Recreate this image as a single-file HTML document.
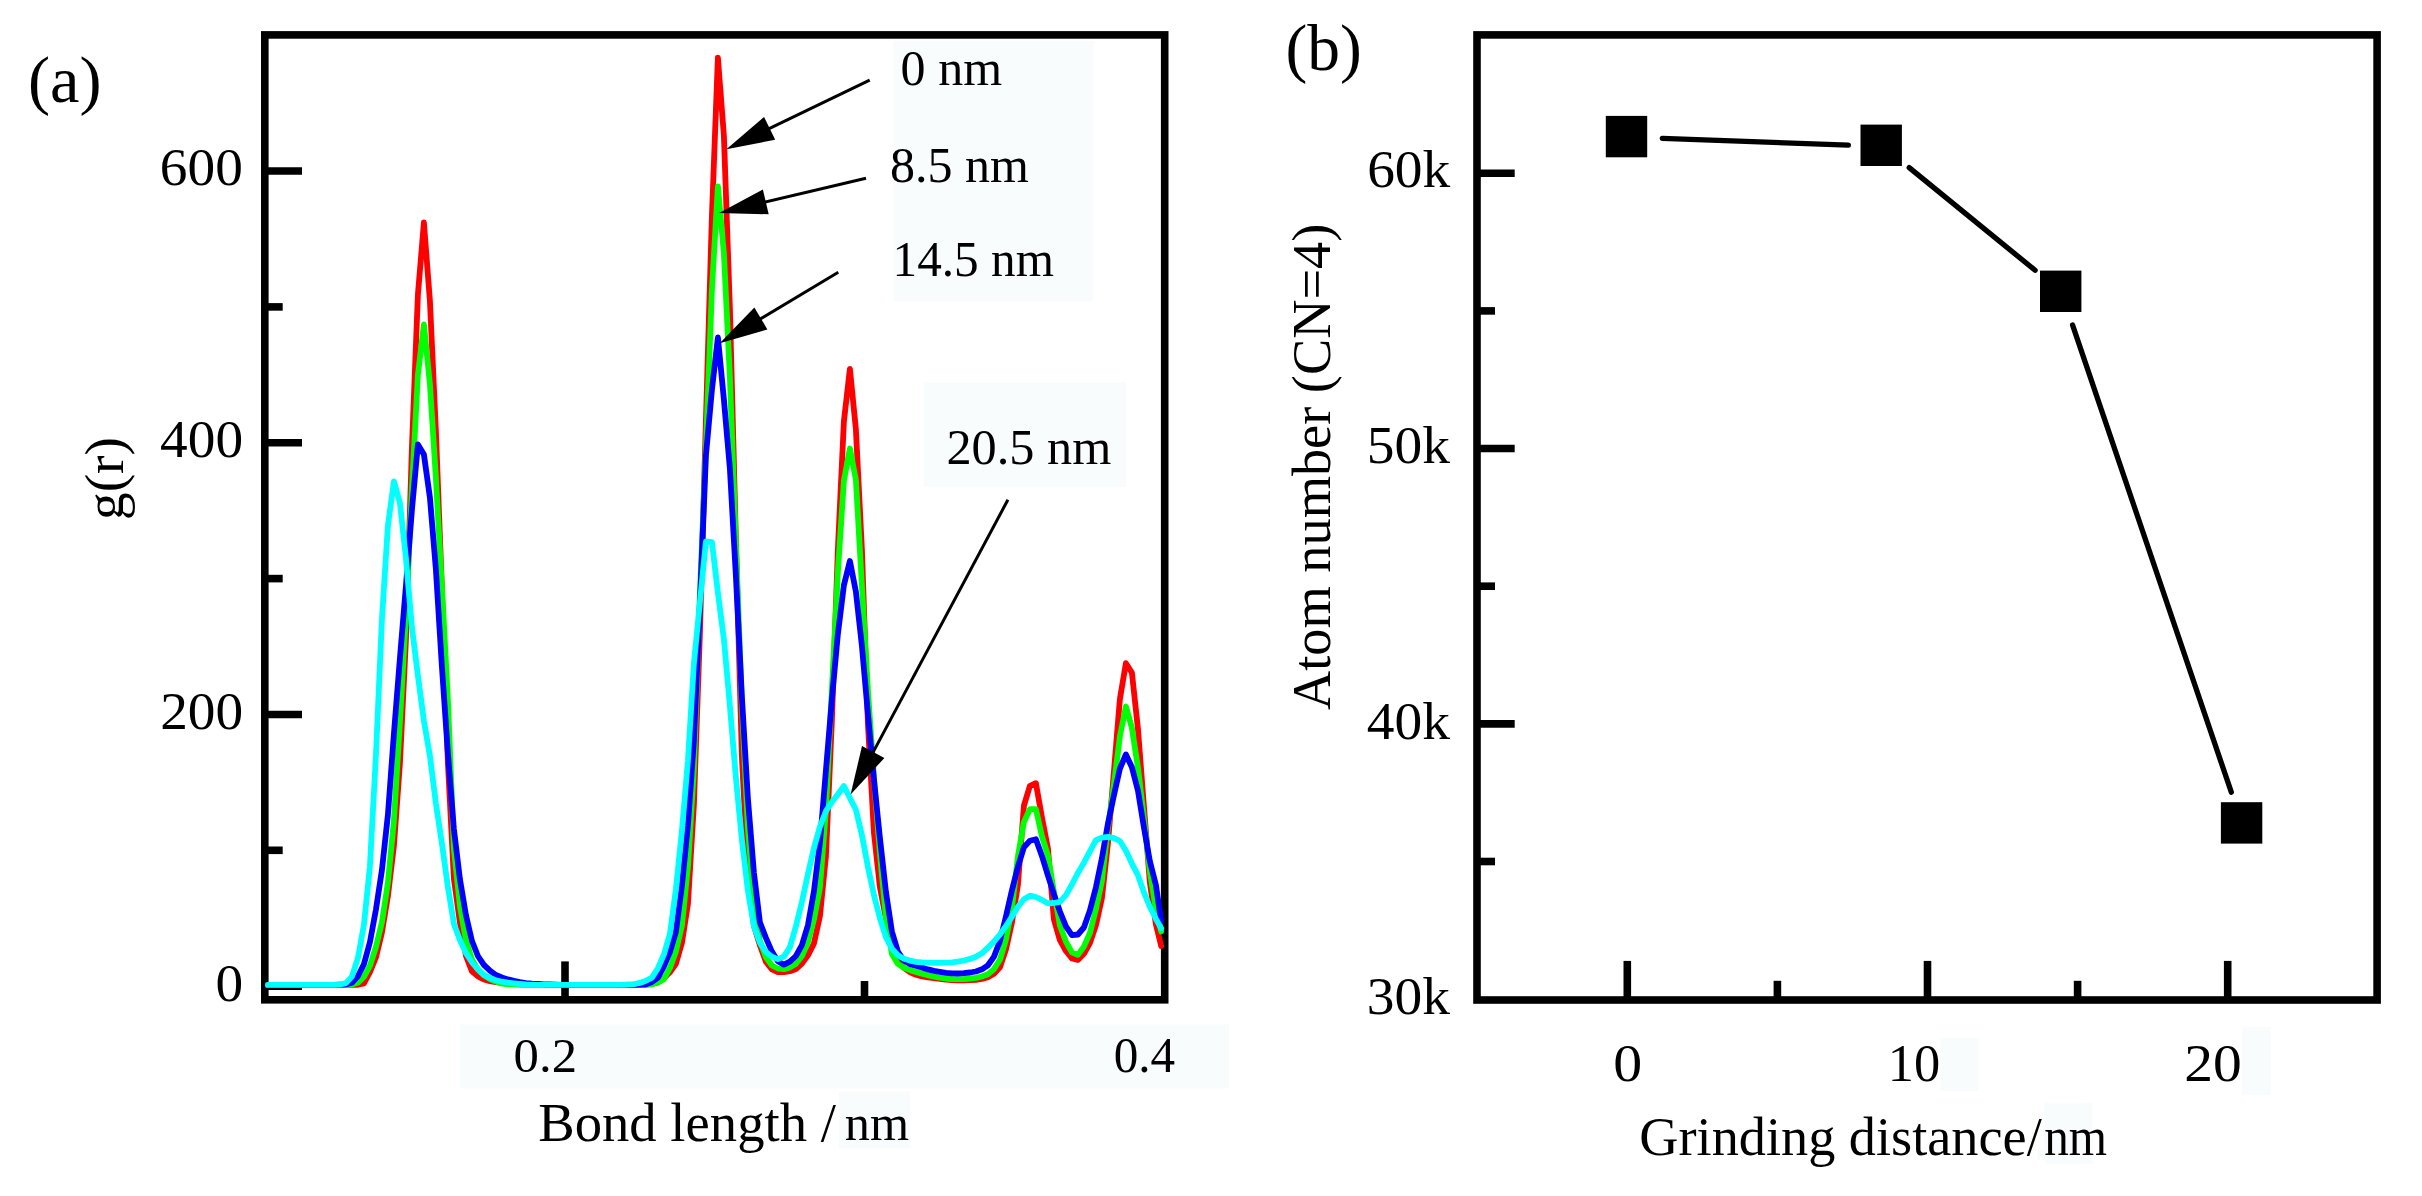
<!DOCTYPE html>
<html lang="en"><head><meta charset="utf-8"><title>g(r) and atom number vs grinding distance</title>
<style>html,body{margin:0;padding:0;background:#fff;overflow:hidden;}svg{display:block;}text{font-family:"Liberation Serif", serif;fill:#000;}</style></head><body>
<svg width="2422" height="1196" viewBox="0 0 2422 1196" role="img" aria-label="Radial distribution function and atom number charts">
<rect x="0" y="0" width="2422" height="1196" fill="#ffffff"/>
<rect x="893.3" y="41" width="200.2" height="260.5" fill="#f8fcfd"/>
<rect x="924" y="382" width="201.8" height="105.0" fill="#f8fcfd"/>
<rect x="459.8" y="1024.5" width="769.2" height="63.9" fill="#f8fcfd"/>
<rect x="839" y="1091.3" width="71.0" height="57.2" fill="#f8fcfd"/>
<rect x="1940" y="1037.8" width="38.7" height="53.1" fill="#f8fcfd"/>
<rect x="2242.2" y="1026.7" width="28.8" height="68.0" fill="#f8fcfd"/>
<rect x="2044.7" y="1103" width="48.0" height="60.7" fill="#f8fcfd"/>
<rect x="2037" y="1149" width="8.0" height="11.0" fill="#f8fcfd"/>
<g stroke="#000" stroke-width="7.6" fill="none" stroke-linecap="butt">
<rect x="264.8" y="34.9" width="899.9" height="964.9"/>
<line x1="264.8" y1="171.0" x2="302" y2="171.0"/>
<line x1="264.8" y1="442.7" x2="302" y2="442.7"/>
<line x1="264.8" y1="714.5" x2="302" y2="714.5"/>
<line x1="264.8" y1="986.2" x2="302" y2="986.2"/>
<line x1="264.8" y1="306.9" x2="282.7" y2="306.9"/>
<line x1="264.8" y1="578.6" x2="282.7" y2="578.6"/>
<line x1="264.8" y1="850.3" x2="282.7" y2="850.3"/>
<line x1="565" y1="999.8" x2="565" y2="961.4"/>
<line x1="864.5" y1="999.8" x2="864.5" y2="981"/>
</g>
<polyline points="267.9,984.9 273.9,984.9 279.9,984.9 285.9,984.9 291.9,984.9 297.9,984.9 303.9,984.9 309.9,984.9 315.9,984.9 321.9,984.9 327.9,984.9 333.9,984.9 339.9,984.9 345.9,984.9 351.9,984.9 357.9,984.8 363.9,983.4 369.9,972.1 375.9,957.5 381.9,932.6 387.9,896.0 393.9,845.8 399.9,763.7 405.9,640.2 411.9,448.4 417.9,294.7 423.9,222.5 429.9,300.7 435.9,431.2 441.9,589.2 447.9,762.8 453.9,878.5 459.9,922.2 465.9,955.6 471.9,971.3 477.9,976.3 483.9,979.4 489.9,981.1 495.9,982.1 501.9,982.9 507.9,983.6 513.9,984.0 519.9,984.3 525.9,984.4 531.9,984.6 537.9,984.7 543.9,984.8 549.9,984.9 555.9,984.9 561.9,984.9 567.9,984.9 573.9,984.9 579.9,984.9 585.9,984.9 591.9,984.9 597.9,984.9 603.9,984.9 609.9,984.9 615.9,984.9 621.9,984.9 627.9,984.9 633.9,984.9 639.9,984.9 645.9,984.7 651.9,984.0 657.9,982.4 663.9,978.3 669.9,972.3 675.9,963.8 681.9,943.0 687.9,904.1 693.9,804.7 699.9,633.2 705.9,421.0 711.9,216.1 717.9,57.6 723.9,135.9 729.9,308.8 735.9,541.1 741.9,756.9 747.9,872.4 753.9,925.6 759.9,945.3 765.9,961.8 771.9,969.4 777.9,972.1 783.9,972.1 789.9,971.2 795.9,969.0 801.9,963.5 807.9,955.3 813.9,943.7 819.9,916.2 825.9,856.8 831.9,719.8 837.9,548.9 843.9,421.3 849.9,368.9 855.9,429.5 861.9,549.3 867.9,723.2 873.9,832.2 879.9,886.9 885.9,918.5 891.9,946.1 897.9,960.8 903.9,967.9 909.9,972.0 915.9,974.8 921.9,976.4 927.9,977.4 933.9,978.1 939.9,978.8 945.9,979.6 951.9,980.2 957.9,980.4 963.9,980.3 969.9,980.2 975.9,979.9 981.9,979.0 987.9,977.3 993.9,973.8 999.9,967.2 1005.9,949.6 1011.9,922.5 1017.9,885.1 1023.9,805.7 1029.9,785.8 1035.9,783.2 1041.9,817.2 1047.9,848.2 1053.9,919.5 1059.9,940.1 1065.9,951.0 1071.9,958.5 1077.9,959.9 1083.9,953.8 1089.9,943.1 1095.9,925.3 1101.9,898.2 1107.9,843.4 1113.9,772.0 1119.9,698.9 1125.9,663.2 1131.9,672.8 1137.9,728.4 1143.9,806.0 1149.9,882.7 1155.9,924.4 1161.2,946.0" fill="none" stroke="#ff0000" stroke-width="5.8" stroke-linejoin="round" stroke-linecap="round"/>
<polyline points="267.9,984.9 273.9,984.9 279.9,984.9 285.9,984.9 291.9,984.9 297.9,984.9 303.9,984.9 309.9,984.9 315.9,984.9 321.9,984.9 327.9,984.9 333.9,984.9 339.9,984.9 345.9,984.8 351.9,984.6 357.9,982.6 363.9,976.9 369.9,965.8 375.9,947.0 381.9,922.4 387.9,882.7 393.9,820.9 399.9,722.3 405.9,616.2 411.9,489.4 417.9,374.8 423.9,324.5 429.9,384.0 435.9,477.7 441.9,587.0 447.9,700.0 453.9,848.7 459.9,906.0 465.9,940.0 471.9,959.4 477.9,969.7 483.9,975.3 489.9,979.0 495.9,981.6 501.9,983.6 507.9,984.2 513.9,984.4 519.9,984.6 525.9,984.8 531.9,984.9 537.9,984.9 543.9,984.9 549.9,984.9 555.9,984.9 561.9,984.9 567.9,984.9 573.9,984.9 579.9,984.9 585.9,984.9 591.9,984.9 597.9,984.9 603.9,984.9 609.9,984.9 615.9,984.9 621.9,984.9 627.9,984.9 633.9,984.9 639.9,984.9 645.9,984.7 651.9,984.3 657.9,982.4 663.9,979.2 669.9,967.9 675.9,951.4 681.9,925.7 687.9,867.0 693.9,768.7 699.9,594.4 705.9,448.1 711.9,290.0 717.9,186.3 723.9,253.5 729.9,377.2 735.9,543.5 741.9,705.8 747.9,827.2 753.9,903.1 759.9,940.9 765.9,957.3 771.9,965.5 777.9,968.5 783.9,969.1 789.9,967.4 795.9,963.7 801.9,956.0 807.9,942.3 813.9,919.6 819.9,887.9 825.9,810.7 831.9,688.7 837.9,571.3 843.9,480.9 849.9,448.5 855.9,480.0 861.9,585.4 867.9,689.9 873.9,777.4 879.9,853.0 885.9,917.5 891.9,954.0 897.9,963.9 903.9,967.8 909.9,970.1 915.9,971.9 921.9,973.6 927.9,975.2 933.9,976.7 939.9,977.6 945.9,978.5 951.9,979.0 957.9,979.2 963.9,979.0 969.9,978.5 975.9,977.8 981.9,976.5 987.9,974.2 993.9,969.3 999.9,959.8 1005.9,939.6 1011.9,908.3 1017.9,856.5 1023.9,822.0 1029.9,809.2 1035.9,809.2 1041.9,836.1 1047.9,855.7 1053.9,891.6 1059.9,925.5 1065.9,941.6 1071.9,952.4 1077.9,954.8 1083.9,946.6 1089.9,933.0 1095.9,909.4 1101.9,880.9 1107.9,827.9 1113.9,784.8 1119.9,736.3 1125.9,706.5 1131.9,728.0 1137.9,767.3 1143.9,817.6 1149.9,871.7 1155.9,909.6 1161.2,931.5" fill="none" stroke="#00ff00" stroke-width="5.8" stroke-linejoin="round" stroke-linecap="round"/>
<polyline points="267.9,984.9 273.9,984.9 279.9,984.9 285.9,984.9 291.9,984.9 297.9,984.9 303.9,984.9 309.9,984.9 315.9,984.9 321.9,984.9 327.9,984.9 333.9,984.9 339.9,984.7 345.9,984.4 351.9,982.7 357.9,976.3 363.9,964.3 369.9,942.3 375.9,909.8 381.9,870.2 387.9,814.9 393.9,734.0 399.9,658.4 405.9,586.3 411.9,510.0 417.9,444.5 423.9,454.5 429.9,497.5 435.9,569.5 441.9,666.6 447.9,753.3 453.9,829.0 459.9,879.1 465.9,914.9 471.9,940.8 477.9,956.0 483.9,964.9 489.9,970.7 495.9,975.0 501.9,977.5 507.9,979.4 513.9,980.9 519.9,982.1 525.9,983.1 531.9,983.7 537.9,984.0 543.9,984.3 549.9,984.5 555.9,984.7 561.9,984.8 567.9,984.9 573.9,984.9 579.9,984.9 585.9,984.9 591.9,984.9 597.9,984.9 603.9,984.9 609.9,984.9 615.9,984.9 621.9,984.9 627.9,984.9 633.9,984.9 639.9,984.7 645.9,984.3 651.9,982.0 657.9,977.6 663.9,966.4 669.9,952.2 675.9,931.9 681.9,885.9 687.9,825.3 693.9,740.5 699.9,604.6 705.9,455.8 711.9,389.9 717.9,337.5 723.9,399.6 729.9,468.8 735.9,576.0 741.9,697.2 747.9,798.7 753.9,872.5 759.9,922.3 765.9,937.9 771.9,951.6 777.9,961.3 783.9,964.7 789.9,961.7 795.9,956.0 801.9,945.1 807.9,925.3 813.9,891.6 819.9,842.9 825.9,770.7 831.9,699.2 837.9,633.8 843.9,585.2 849.9,561.0 855.9,591.7 861.9,646.0 867.9,713.6 873.9,779.0 879.9,837.7 885.9,891.7 891.9,931.5 897.9,951.7 903.9,960.3 909.9,964.1 915.9,965.8 921.9,967.5 927.9,969.4 933.9,970.9 939.9,971.9 945.9,972.8 951.9,973.3 957.9,973.5 963.9,973.2 969.9,972.5 975.9,971.5 981.9,969.3 987.9,965.3 993.9,956.9 999.9,941.1 1005.9,916.6 1011.9,890.5 1017.9,866.9 1023.9,847.2 1029.9,840.8 1035.9,839.3 1041.9,855.9 1047.9,875.3 1053.9,894.1 1059.9,911.5 1065.9,926.3 1071.9,935.1 1077.9,934.5 1083.9,927.5 1089.9,910.5 1095.9,887.4 1101.9,858.4 1107.9,823.8 1113.9,795.4 1119.9,768.5 1125.9,754.5 1131.9,767.3 1137.9,790.4 1143.9,827.2 1149.9,861.4 1155.9,885.0 1161.2,921.5" fill="none" stroke="#0000ff" stroke-width="5.8" stroke-linejoin="round" stroke-linecap="round"/>
<polyline points="267.9,984.9 273.9,984.9 279.9,984.9 285.9,984.9 291.9,984.9 297.9,984.9 303.9,984.9 309.9,984.9 315.9,984.9 321.9,984.9 327.9,984.9 333.9,984.8 339.9,984.5 345.9,983.1 351.9,976.6 357.9,957.9 363.9,925.0 369.9,866.5 375.9,755.9 381.9,619.6 387.9,525.7 393.9,481.3 399.9,502.9 405.9,557.7 411.9,627.2 417.9,675.6 423.9,721.0 429.9,755.7 435.9,803.6 441.9,843.4 447.9,887.0 453.9,923.9 459.9,940.1 465.9,952.9 471.9,962.3 477.9,969.2 483.9,974.9 489.9,978.1 495.9,980.2 501.9,981.7 507.9,982.6 513.9,983.3 519.9,983.9 525.9,984.4 531.9,984.7 537.9,984.9 543.9,984.9 549.9,984.9 555.9,984.9 561.9,984.9 567.9,984.9 573.9,984.9 579.9,984.9 585.9,984.9 591.9,984.9 597.9,984.9 603.9,984.9 609.9,984.9 615.9,984.9 621.9,984.8 627.9,984.5 633.9,984.1 639.9,982.9 645.9,980.8 651.9,977.6 657.9,968.2 663.9,954.5 669.9,933.9 675.9,889.4 681.9,830.9 687.9,760.9 693.9,663.4 699.9,602.3 705.9,541.5 711.9,542.2 717.9,592.6 723.9,639.4 729.9,706.1 735.9,777.8 741.9,839.9 747.9,890.8 753.9,926.2 759.9,942.7 765.9,952.0 771.9,956.8 777.9,959.1 783.9,956.6 789.9,947.1 795.9,926.2 801.9,901.9 807.9,874.1 813.9,848.1 819.9,826.8 825.9,811.2 831.9,802.0 837.9,794.3 843.9,786.0 849.9,798.0 855.9,809.8 861.9,835.1 867.9,866.8 873.9,895.0 879.9,918.3 885.9,937.1 891.9,948.6 897.9,955.2 903.9,958.7 909.9,960.6 915.9,961.8 921.9,962.4 927.9,962.7 933.9,962.9 939.9,962.9 945.9,962.6 951.9,962.3 957.9,961.6 963.9,960.5 969.9,958.9 975.9,956.8 981.9,953.3 987.9,947.7 993.9,941.6 999.9,934.5 1005.9,926.1 1011.9,916.7 1017.9,906.7 1023.9,899.2 1029.9,895.7 1035.9,897.0 1041.9,899.9 1047.9,903.3 1053.9,903.0 1059.9,901.8 1065.9,895.1 1071.9,884.5 1077.9,872.9 1083.9,862.7 1089.9,851.4 1095.9,840.2 1101.9,837.6 1107.9,836.8 1113.9,838.1 1119.9,841.0 1125.9,850.8 1131.9,863.6 1137.9,875.1 1143.9,892.4 1149.9,907.0 1155.9,918.8 1161.2,928.4" fill="none" stroke="#00ffff" stroke-width="5.8" stroke-linejoin="round" stroke-linecap="round"/>
<line x1="869.7" y1="80.2" x2="766.0" y2="130.1" stroke="#000" stroke-width="3.0"/>
<polygon points="726.4,149.2 764.1,116.9 775.2,139.8" fill="#000"/>
<line x1="866.0" y1="178.3" x2="761.9" y2="202.8" stroke="#000" stroke-width="3.0"/>
<polygon points="719.1,212.9 762.9,189.5 768.7,214.3" fill="#000"/>
<line x1="838.3" y1="272.2" x2="757.5" y2="320.6" stroke="#000" stroke-width="3.0"/>
<polygon points="719.7,343.2 754.4,307.6 767.4,329.4" fill="#000"/>
<line x1="1007.9" y1="499.8" x2="871.3" y2="755.6" stroke="#000" stroke-width="3.0"/>
<polygon points="850.6,794.4 862.0,746.1 884.4,758.0" fill="#000"/>
<text transform="translate(27.92 101.50) scale(1.0201 1.0000)" font-size="65.00">(a)</text>
<text transform="translate(159.85 184.97) scale(1.0407 1.0000)" font-size="53.19">600</text>
<text transform="translate(160.05 457.32) scale(1.0407 1.0000)" font-size="53.19">400</text>
<text transform="translate(160.15 729.06) scale(1.0407 1.0000)" font-size="53.19">200</text>
<text transform="translate(215.50 1000.80) scale(1.0407 1.0000)" font-size="53.19">0</text>
<text transform="translate(123.00 520.05) rotate(-90) scale(1.0000 1.0000)" font-size="55.36">g(r)</text>
<text transform="translate(513.60 1071.88) scale(1.0546 1.0000)" font-size="48.09">0.2</text>
<text transform="translate(1113.66 1071.85) scale(0.9837 1.0000)" font-size="50.00">0.4</text>
<text transform="translate(538.26 1140.78) scale(1.0029 1.0000)" font-size="54.51">Bond length /</text>
<text transform="translate(844.87 1139.80) scale(0.9733 1.0000)" font-size="51.70">nm</text>
<text transform="translate(900.62 84.99) scale(0.9902 1.0000)" font-size="50.52">0 nm</text>
<text transform="translate(890.02 182.05) scale(0.9982 1.0000)" font-size="50.15">8.5 nm</text>
<text transform="translate(892.59 275.54) scale(0.9660 1.0000)" font-size="50.96">14.5 nm</text>
<text transform="translate(946.44 463.95) scale(1.0117 1.0000)" font-size="49.71">20.5 nm</text>
<g stroke="#000" stroke-width="7.6" fill="none" stroke-linecap="butt">
<rect x="1477.0" y="34.9" width="900.1" height="965.1"/>
<line x1="1477.0" y1="173.2" x2="1514.7" y2="173.2"/>
<line x1="1477.0" y1="448.5" x2="1514.7" y2="448.5"/>
<line x1="1477.0" y1="723.9" x2="1514.7" y2="723.9"/>
<line x1="1477.0" y1="310.9" x2="1495" y2="310.9"/>
<line x1="1477.0" y1="586.2" x2="1495" y2="586.2"/>
<line x1="1477.0" y1="861.5" x2="1495" y2="861.5"/>
<line x1="1627.3" y1="1000.0" x2="1627.3" y2="960.9"/>
<line x1="1927.5" y1="1000.0" x2="1927.5" y2="960.9"/>
<line x1="2227.7" y1="1000.0" x2="2227.7" y2="960.9"/>
<line x1="1777.4" y1="1000.0" x2="1777.4" y2="980.8"/>
<line x1="2077.6" y1="1000.0" x2="2077.6" y2="980.8"/>
</g>
<g stroke="#000" stroke-width="5.3" stroke-linecap="round" fill="none">
<line x1="1662.3" y1="138.3" x2="1848.4" y2="145.1"/>
<line x1="1909.2" y1="167.6" x2="2035.1" y2="270.3"/>
<line x1="2072.6" y1="325.1" x2="2231.3" y2="792.2"/>
</g>
<rect x="1605.8" y="115.9" width="41.4" height="41.4" fill="#000"/>
<rect x="1860.5" y="124.6" width="41.4" height="41.4" fill="#000"/>
<rect x="2040.0" y="270.6" width="41.4" height="41.4" fill="#000"/>
<rect x="2220.9" y="802.2" width="41.4" height="41.4" fill="#000"/>
<text transform="translate(1285.45 69.80) scale(1.0080 1.0000)" font-size="65.00">(b)</text>
<text transform="translate(1367.14 186.77) scale(1.0367 1.0000)" font-size="53.48">60k</text>
<text transform="translate(1366.84 463.23) scale(1.0367 1.0000)" font-size="53.48">50k</text>
<text transform="translate(1366.84 738.56) scale(1.0367 1.0000)" font-size="53.48">40k</text>
<text transform="translate(1366.84 1013.89) scale(1.0367 1.0000)" font-size="53.48">30k</text>
<text transform="translate(1330.20 710.04) rotate(-90) scale(1.0000 1.0300)" font-size="54.34">Atom number (CN=4)</text>
<text transform="translate(1613.23 1080.67) scale(1.0883 1.0000)" font-size="53.19">0</text>
<text transform="translate(1887.81 1080.67) scale(0.9863 1.0000)" font-size="53.19">10</text>
<text transform="translate(2184.21 1080.67) scale(1.0760 1.0000)" font-size="53.48">20</text>
<text transform="translate(1639.33 1155.10) scale(0.9978 1.0000)" font-size="54.40">Grinding distance/</text>
<text transform="translate(2044.19 1154.90) scale(0.8996 1.0000)" font-size="54.68">nm</text>
</svg></body></html>
